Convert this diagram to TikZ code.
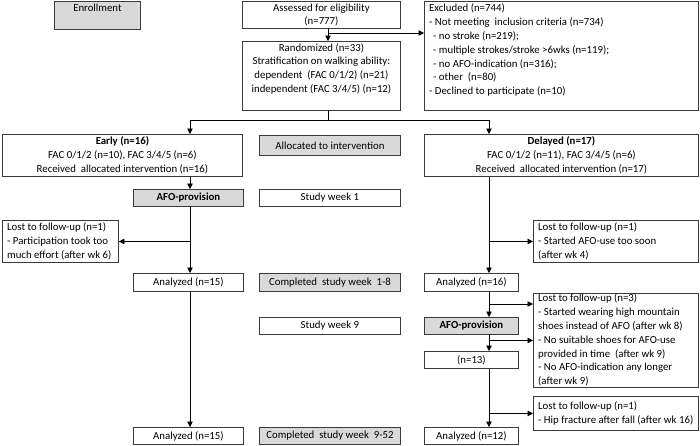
\documentclass[tikz,border=0pt]{standalone}
\usepackage{fontspec}
\setmainfont{Carlito}
\usetikzlibrary{arrows.meta}
\definecolor{boxgray}{HTML}{D9D9D9}
\definecolor{edgegray}{HTML}{3A3A3A}
\newcommand{\lcol}[1]{\begin{tabular}{@{}l@{}}#1\end{tabular}}
\tikzset{
  x=1pt, y=-1pt,
  box/.style={draw=edgegray, line width=0.9pt, fill=white, inner sep=0pt, anchor=north west,
    align=flush center, font=\fontsize{10.8}{13.8}\selectfont},
  graybox/.style={box, fill=boxgray},
  txt/.style={inner sep=0pt, font=\fontsize{10.8}{13.8}\selectfont},
  ltxt/.style={txt, anchor=west},
  ln/.style={line width=0.8pt, draw=black},
  arr/.style={ln, -{Triangle[length=5.5pt,width=5.5pt]}},
}
\begin{document}
\begin{tikzpicture}
\useasboundingbox (0,0) rectangle (700,445);
% top row
\node[graybox, minimum width=86pt, minimum height=28pt] (enroll) at (54,1) {};
\node[txt, anchor=north] (enrolltxt) at ([yshift=-3pt]enroll.north) {Enrollment};
\node[box, minimum width=158pt, minimum height=27pt] (assess) at (242,1) {Assessed for eligibility\\(n=777)};
\node[box, minimum width=274pt, minimum height=109pt] (excl) at (424,1) {};
\node[txt, anchor=north west] (excltxt) at ([xshift=5pt,yshift=-1pt]excl.north west)
  {\lcol{Excluded (n=744)\\
   - Not meeting\ \ inclusion criteria (n=734)\\
   \hspace*{4pt}- no stroke (n=219);\\
   \hspace*{4pt}- multiple strokes/stroke >6wks (n=119);\\
   \hspace*{4pt}- no AFO-indication (n=316);\\
   \hspace*{4pt}- other\ \ (n=80)\\
   - Declined to participate (n=10)}};
\node[box, minimum width=158pt, minimum height=69pt] (rand) at (242,41) {};
\node[txt, anchor=north, align=flush center] (randtxt) at ([yshift=-2pt]rand.north)
  {Randomized (n=33)\\Stratification on walking ability:\\dependent\ \ (FAC 0/1/2) (n=21)\\independent (FAC 3/4/5) (n=12)};
% allocation row
\node[box, minimum width=240pt, minimum height=42pt] (early) at (2,134)
  {\textbf{Early (n=16)}\\FAC 0/1/2 (n=10), FAC 3/4/5 (n=6)\\Received\ \ allocated intervention (n=16)};
\node[graybox, minimum width=141pt, minimum height=20pt] (alloc) at (259,135) {Allocated to intervention};
\node[box, minimum width=274pt, minimum height=42pt] (delayed) at (424,134)
  {\textbf{Delayed (n=17)}\\FAC 0/1/2 (n=11), FAC 3/4/5 (n=6)\\Received\ \ allocated intervention (n=17)};
% week 1 row
\node[graybox, minimum width=110pt, minimum height=17pt] (afoL) at (133,189) {\textbf{AFO-provision}};
\node[box, minimum width=141pt, minimum height=17pt] (week1) at (259,189) {Study week 1};
% lost rows
\node[box, minimum width=116pt, minimum height=42pt] (lostL) at (2,220) {};
\node[ltxt] (lostLtxt) at ([xshift=5pt]lostL.west)
  {\lcol{Lost to follow-up (n=1)\\- Participation took too\\much effort (after wk 6)}};
\node[box, minimum width=165pt, minimum height=42pt] (lostR1) at (533,220) {};
\node[ltxt] (lostR1txt) at ([xshift=5pt]lostR1.west)
  {\lcol{Lost to follow-up (n=1)\\- Started AFO-use too soon\\(after wk 4)}};
% week 1-8 row
\node[box, minimum width=110pt, minimum height=18pt] (an15) at (133,273) {Analyzed (n=15)};
\node[graybox, minimum width=141pt, minimum height=18pt] (comp1) at (259,273) {Completed\ \ study week\ \ 1-8};
\node[box, minimum width=94pt, minimum height=18pt] (an16) at (424,273) {Analyzed (n=16)};
\node[box, minimum width=165pt, minimum height=94pt] (lostR2) at (533,293) {};
\node[ltxt] (lostR2txt) at ([xshift=5pt]lostR2.west)
  {\lcol{Lost to follow-up (n=3)\\- Started wearing high mountain\\shoes instead of AFO (after wk 8)\\- No suitable shoes for AFO-use\\provided in time\ \ (after wk 9)\\- No AFO-indication any longer\\(after wk 9)}};
% week 9 row
\node[box, minimum width=141pt, minimum height=17pt] (week9) at (259,317) {Study week 9};
\node[graybox, minimum width=94pt, minimum height=17pt] (afoR) at (424,317) {\textbf{AFO-provision}};
\node[box, minimum width=94pt, minimum height=17pt] (n13) at (424,351) {(n=13)};
\node[box, minimum width=165pt, minimum height=34pt] (lostR3) at (533,396) {};
\node[ltxt] (lostR3txt) at ([xshift=5pt]lostR3.west)
  {\lcol{Lost to follow-up (n=1)\\- Hip fracture after fall (after wk 16)}};
% final row
\node[box, minimum width=110pt, minimum height=17pt] (an15b) at (133,427) {Analyzed (n=15)};
\node[graybox, minimum width=141pt, minimum height=17pt] (comp2) at (259,427) {Completed\ \ study week\ \ 9-52};
\node[box, minimum width=94pt, minimum height=17pt] (an12) at (424,427) {Analyzed (n=12)};
% guide coordinates
\coordinate (xA) at (328,0);
\coordinate (xL) at (190,0);
\coordinate (xR) at (489,0);
\coordinate (exY) at (0,33);
\coordinate (split) at (0,120);
\coordinate (b2) at (0,304);
% connectors
\draw[arr] (xA |- assess.south) -- (xA |- rand.north);
\draw[arr] (xA |- exY) -- (excl.west |- exY);
\draw[ln] (xA |- rand.south) -- (xA |- split);
\draw[arr] (xA |- split) -| (xL |- early.north);
\draw[arr] (xA |- split) -| (xR |- delayed.north);
\draw[arr] (xL |- early.south) -- (xL |- afoL.north);
\draw[arr] (xL |- afoL.south) -- (xL |- an15.north);
\draw[arr] (xL |- lostL.east) -- (lostL.east);
\draw[arr] (xL |- an15.south) -- (xL |- an15b.north);
\draw[arr] (xR |- delayed.south) -- (xR |- an16.north);
\draw[arr] (xR |- lostR1.west) -- (lostR1.west);
\draw[arr] (xR |- an16.south) -- (xR |- afoR.north);
\draw[arr] (xR |- b2) -- (lostR2.west |- b2);
\draw[arr] (xR |- afoR.south) -- (xR |- n13.north);
\draw[arr] (xR |- lostR2.west) -- (lostR2.west);
\draw[arr] (xR |- n13.south) -- (xR |- an12.north);
\draw[arr] (xR |- lostR3.west) -- (lostR3.west);
\end{tikzpicture}
\end{document}
